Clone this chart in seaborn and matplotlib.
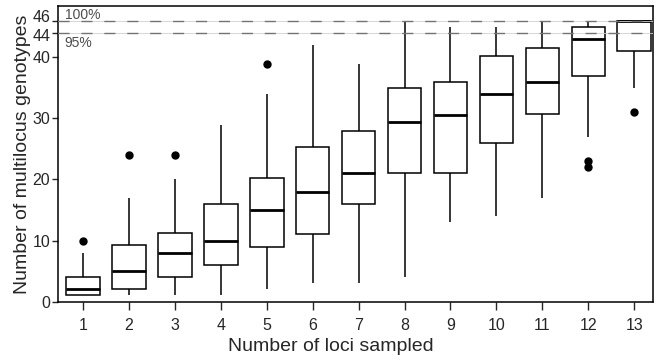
import numpy as np
import pandas as pd
import matplotlib
matplotlib.use("Agg")
import matplotlib.pyplot as plt
import matplotlib.transforms as mtransforms
import seaborn as sns

# box statistics, one entry per number of loci
loci = [str(i) for i in range(1, 14)]
lo = [1, 1, 1, 1, 2, 3, 3, 4, 13, 14, 17, 27, 35]
q1 = [1, 2, 4, 6, 9, 11, 16, 21, 21, 26, 30.7, 37, 41]
med = [2, 5, 8, 10, 15, 18, 21, 29.5, 30.5, 34, 36, 43, 46]
q3 = [4, 9.2, 11.2, 16, 20.3, 25.3, 28, 35, 36, 40.3, 41.5, 45, 46]
hi = [8, 17, 20, 29, 34, 42, 39, 46, 45, 45, 46, 46, 46]
fliers_low = [[], [], [], [], [], [], [], [], [], [], [], [22, 23], [31]]
fliers_high = [[10], [24], [24], [], [39], [], [], [], [], [], [], [], []]
yticks = [0, 10, 20, 30, 40, 44, 46]


def sample(i, k=4):
    # 4k+1 values whose quartiles and whisker ends match the read stats
    n = 4 * k + 1
    b = len(fliers_high[i])
    vals = list(fliers_low[i]) + [lo[i]]
    vals += [q1[i]] * (k + 1 - len(vals))
    vals += [med[i]] * k
    vals += [q3[i]] * (n - 1 - b - len(vals))
    vals += [hi[i]] + list(fliers_high[i])
    return vals


rows = []
for i, g in enumerate(loci):
    for v in sample(i):
        rows.append((g, v))
df = pd.DataFrame(rows, columns=["loci", "genotypes"])

sns.set_style("ticks")
plt.rcParams["font.family"] = ["Liberation Sans", "DejaVu Sans"]

fig = plt.figure(figsize=(6.59, 3.62), dpi=100)
ax = fig.add_axes([0.088, 0.167, 0.903, 0.816])

sns.boxplot(data=df, x="loci", y="genotypes", order=loci, ax=ax,
            color="white", linecolor="black", linewidth=1.1, width=0.73,
            whis=1.5,
            medianprops={"linewidth": 2.0, "color": "black"},
            capprops={"linewidth": 0},
            flierprops={"marker": "o", "markersize": 5,
                        "markerfacecolor": "black",
                        "markeredgecolor": "black"})

for y in (46, 44):
    ax.axhline(y, color="0.82", lw=0.6, zorder=5)
    ax.axhline(y, color="0.45", lw=1.0, ls=(0, (8, 8.5)), zorder=6)

trans = mtransforms.blended_transform_factory(ax.transAxes, ax.transData)
ax.text(0.011, 45.85, "100%", transform=trans, fontsize=10, color="0.3",
        va="bottom", ha="left")
ax.text(0.011, 43.5, "95%", transform=trans, fontsize=10, color="0.3",
        va="top", ha="left")

ax.set_xlim(-0.545, 12.41)
ax.set_ylim(0, 48.4)
ax.set_yticks(yticks)
ax.set_xlabel("Number of loci sampled", fontsize=14, labelpad=5)
ax.xaxis.set_label_coords(0.458, -0.125)
ax.set_ylabel("Number of multilocus genotypes", fontsize=14, labelpad=1)
ax.tick_params(axis="x", labelsize=11.5, length=5.4, width=1, pad=6.5)
ax.tick_params(axis="y", labelsize=11.5, length=4.5, width=1, pad=1)
for s in ax.spines.values():
    s.set_visible(True)
    s.set_linewidth(1.1)
    s.set_color("black")

# nudge the crowded 46 / 44 labels apart like the original
ticks = ax.yaxis.get_major_ticks()
for t, dy in ((ticks[-1], 3.5), (ticks[-2], -1.5)):
    off = mtransforms.ScaledTranslation(0, dy / 72, fig.dpi_scale_trans)
    t.label1.set_transform(t.label1.get_transform() + off)

fig.savefig("out.png", dpi=100)
